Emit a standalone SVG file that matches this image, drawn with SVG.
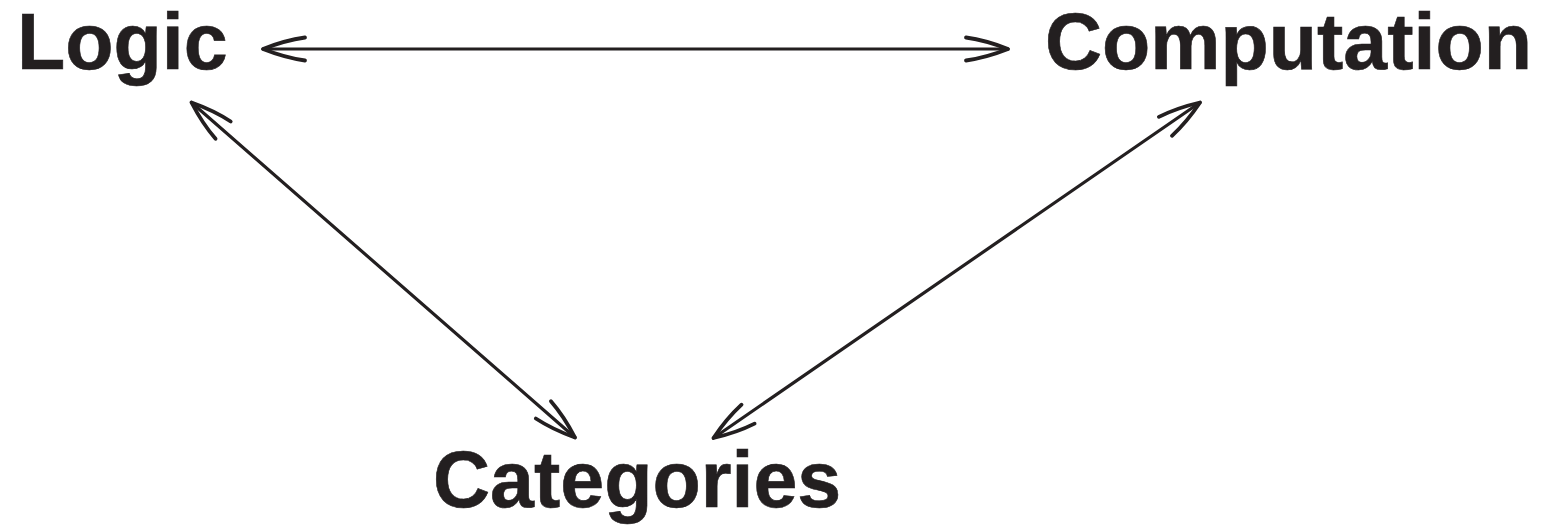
<svg xmlns="http://www.w3.org/2000/svg" width="1545" height="528" viewBox="0 0 1545 528">
  <style>
    .label { font-family: "Liberation Sans", Arial, sans-serif; font-weight: bold; font-size: 79px; fill: #231f20; stroke: #231f20; stroke-width: 0.6; }
    .conn { stroke: #231f20; stroke-width: 3.2; fill: none; stroke-linecap: round; }
    .head { stroke: #231f20; stroke-width: 3.8; fill: none; stroke-linecap: round; stroke-linejoin: round; }
  </style>
  <defs>
    <marker id="arr" markerUnits="userSpaceOnUse" viewBox="-46 -16 50 32" refX="0" refY="0" markerWidth="50" markerHeight="32" orient="auto-start-reverse" overflow="visible">
      <path class="head" d="M -42 -11.5 Q -22 -8.7 0 0 Q -22 8.7 -42 11.5"/>
    </marker>
  </defs>
  <rect width="1545" height="528" fill="#ffffff"/>
  <g id="connectors">
    <path class="conn" d="M 263 49 L 1008 49" marker-start="url(#arr)" marker-end="url(#arr)"/>
    <path class="conn" d="M 191.5 102.5 L 575 437.5" marker-start="url(#arr)" marker-end="url(#arr)"/>
    <path class="conn" d="M 1200 102.5 L 713.5 438" marker-start="url(#arr)" marker-end="url(#arr)"/>
  </g>
  <g id="logic">
    <text class="label" x="17" y="69">Logic</text>
  </g>
  <g id="computation">
    <text class="label" x="1045" y="69">Computation</text>
  </g>
  <g id="categories">
    <text class="label" x="433" y="507">Categories</text>
  </g>
</svg>
